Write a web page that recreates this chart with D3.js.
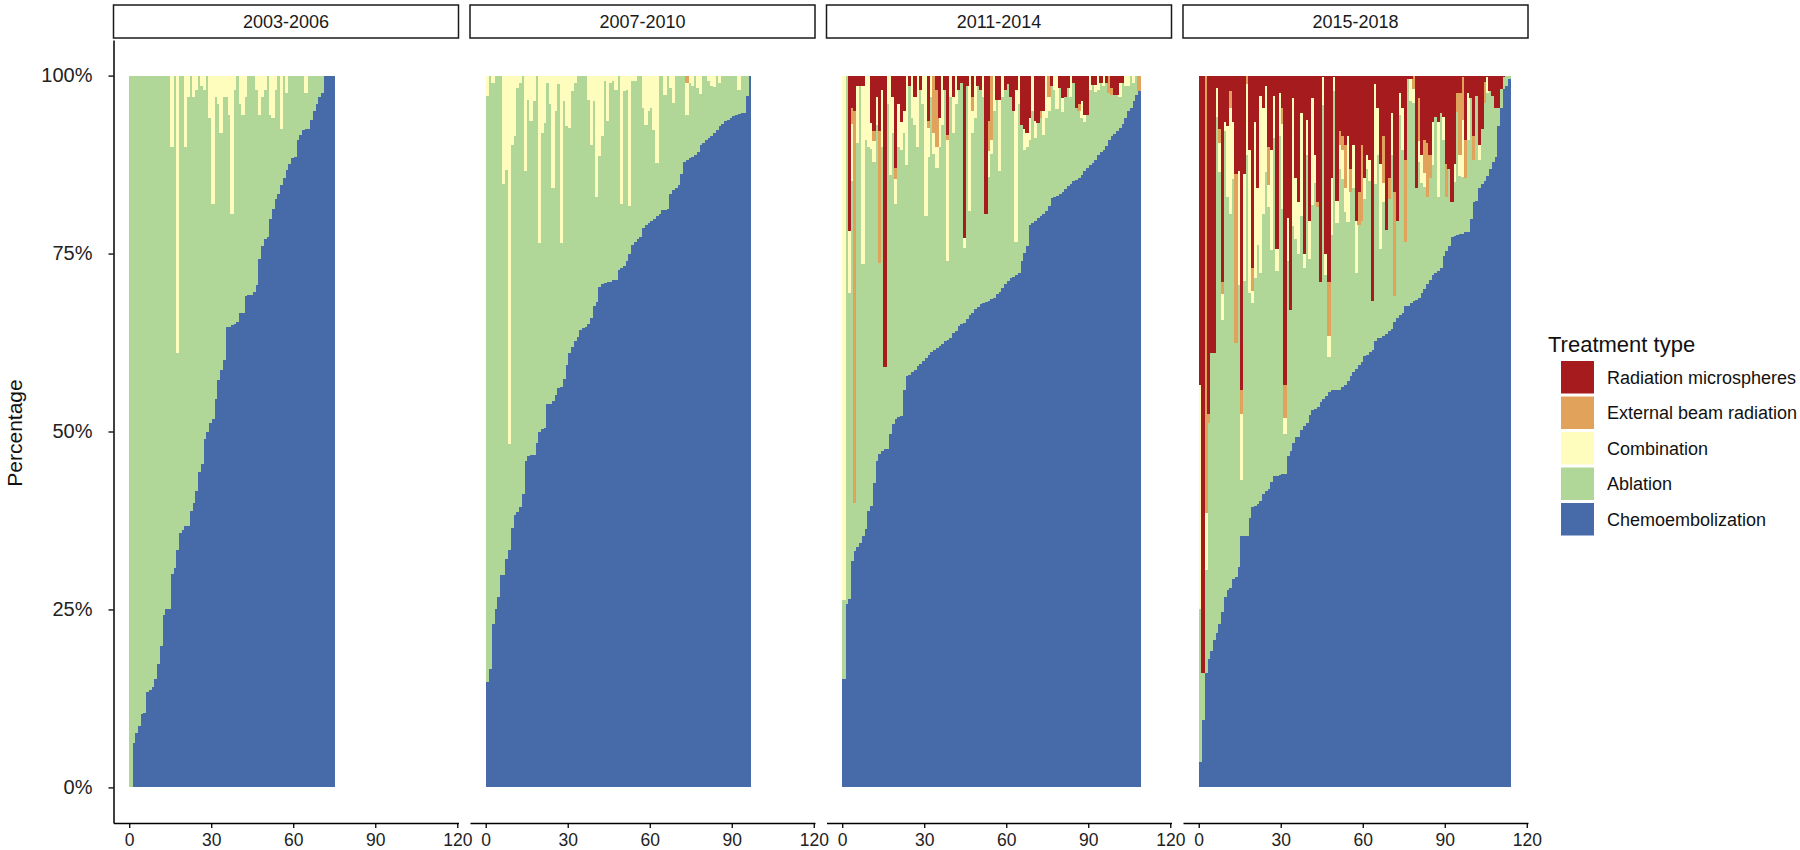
<!DOCTYPE html>
<html>
<head>
<meta charset="utf-8">
<script src="https://cdn.jsdelivr.net/npm/d3@7"></script>
<style>
  body { margin: 0; background: #fff; }
  svg text { font-family: "Liberation Sans", Arial, sans-serif; }
</style>
</head>
<body>
<div id="chart"></div>
<script>
// ---- data: share (%) of each treatment per hospital, hospitals sorted by chemoembolization share

const periods = ["2003-2006", "2007-2010", "2011-2014", "2015-2018"];
const treatments = ["chemo", "ablation", "combination", "external", "microspheres"];
const treatmentLabels = ["Chemoembolization", "Ablation", "Combination", "External beam radiation", "Radiation microspheres"];
const treatmentColors = ["#476aa8", "#b1d798", "#fefdbd", "#e1a25c", "#a61c1e"];
const xTicks = [0, 30, 60, 90, 120];
const yTicks = [0, 0.25, 0.5, 0.75, 1];

// 2003-2006
const p1Chemo = [0, 6.3, 7.6, 8.6, 10.3, 10.4, 13.4, 13.7, 14.1, 15.3,
  17.3, 19.9, 24.2, 25, 25, 30, 30.8, 33.3, 35.7, 36.2,
  36.7, 36.7, 38.9, 39.9, 41.7, 44.3, 45.5, 49, 50, 51.2,
  51.8, 54.6, 57.2, 58.7, 60, 64.7, 64.7, 64.9, 65.1, 65.4,
  66.7, 66.7, 69, 69.2, 69.2, 69.6, 70.6, 74.2, 76, 77,
  77.3, 79.9, 81.2, 82.6, 83.3, 84.6, 85.6, 86.8, 87.6, 88.4,
  88.6, 90.9, 91.7, 92.3, 92.5, 92.5, 93.7, 95, 96, 97,
  97.5, 100, 100, 100, 100];
const p1Ablation = [100, 93.7, 92.4, 91.4, 89.7, 89.6, 86.6, 86.3, 85.9, 84.7,
  82.7, 80.1, 75.8, 75, 75, 60, 69.2, 27.7, 64.3, 63.8,
  53.3, 60.3, 61.1, 57.1, 56.3, 55.7, 53, 49, 50, 42.8,
  30.2, 42.4, 38.8, 33.3, 37, 32.3, 29.8, 15.6, 32.9, 34.6,
  29.3, 27.8, 28, 30.8, 30.8, 30.4, 27.4, 20.3, 21, 21,
  22.7, 14.6, 12.8, 15.4, 16.7, 7.9, 14.4, 10.7, 12.4, 11.6,
  11.4, 9.1, 8.3, 7.7, 5, 7.5, 6.3, 5, 4, 3,
  2.5, 0, 0, 0, 0];
const p1Combination = [0, 0, 0, 0, 0, 0, 0, 0, 0, 0,
  0, 0, 0, 0, 0, 10, 0, 39, 0, 0,
  10, 3, 0, 3, 2, 0, 1.5, 2, 0, 6,
  18, 3, 4, 8, 3, 3, 5.5, 19.5, 2, 0,
  4, 5.5, 3, 0, 0, 0, 2, 5.5, 3, 2,
  0, 5.5, 6, 2, 0, 7.5, 0, 2.5, 0, 0,
  0, 0, 0, 0, 2.5, 0, 0, 0, 0, 0,
  0, 0, 0, 0, 0];
const p1External = [];
const p1Microspheres = [];

// 2007-2010
const p2Chemo = [14.8, 16.6, 23, 25, 26.7, 29.8, 29.8, 32.1, 33.3, 36.5,
  38.3, 38.7, 39.4, 41.2, 45.9, 46.5, 46.7, 46.7, 48.4, 50,
  50.4, 50.5, 53.8, 53.9, 54.3, 55.1, 56.1, 56.3, 57.4, 59.4,
  61, 61.9, 62.7, 63.3, 64.3, 64.5, 64.7, 65.1, 65.9, 67.6,
  68.2, 70.3, 70.7, 70.9, 71, 71, 71.3, 71.3, 72.7, 73,
  73.3, 74, 75, 76.2, 76.6, 77.1, 77.3, 78.6, 79, 79.3,
  79.6, 79.9, 80.3, 80.6, 81.1, 81.1, 81.2, 83.3, 83.9, 84.2,
  84.6, 86.2, 87.9, 88.1, 88.4, 88.6, 88.9, 89.2, 90.3, 90.5,
  90.9, 91.2, 91.5, 91.9, 92.3, 92.9, 93.2, 93.6, 93.8, 94,
  94.3, 94.5, 94.6, 94.7, 94.8, 97.2, 100];
const p2Ablation = [82.3, 83.4, 76, 75, 73.3, 70.2, 54.9, 54.7, 14.9, 53.8,
  53.2, 59.6, 59.6, 58.8, 40.7, 50.1, 46.9, 49.7, 51.6, 26.5,
  41.6, 42.9, 45.2, 42.1, 29.9, 39.9, 42.7, 20.2, 39, 33.5,
  31.7, 35.9, 36.3, 36.7, 35.7, 35.5, 35.3, 31.5, 24.4, 28.8,
  14.8, 18.4, 20.8, 28.3, 22.6, 28, 27.9, 26.7, 27.3, 8.9,
  24.5, 24, 6.7, 23, 22.6, 22.9, 22.7, 16.9, 14.1, 15.7,
  15.9, 12.5, 7.4, 19.4, 18.9, 16.2, 18.8, 15, 12.3, 15.8,
  15.4, 13.8, 12.1, 6.4, 10.6, 9.9, 11.1, 9.1, 7.1, 9.5,
  9.1, 8, 7, 6.5, 7.7, 6.1, 6.8, 6.4, 6.2, 6,
  5.7, 5.5, 3.4, 5.3, 5.2, 2.8, 0];
const p2Combination = [2.9, 0, 1, 0, 0, 0, 15.3, 13.2, 51.8, 9.7,
  8.5, 1.7, 1, 0, 13.4, 3.4, 6.4, 3.6, 0, 23.5,
  8, 6.6, 1, 4, 15.8, 5, 1.2, 23.5, 3.6, 7.1,
  7.3, 2.2, 1, 0, 0, 0, 0, 3.4, 9.7, 3.6,
  17, 11.3, 8.5, 0.8, 6.4, 1, 0.8, 2, 0, 18.1,
  2.2, 2, 18.3, 0.8, 0.8, 0, 0, 4.5, 6.9, 5,
  4.5, 7.6, 12.3, 0, 0, 2.7, 0, 1.7, 3.8, 0,
  0, 0, 0, 4.5, 1, 1.5, 0, 1.7, 2.6, 0,
  0, 0.8, 1.5, 1.6, 0, 1, 0, 0, 0, 0,
  0, 0, 2, 0, 0, 0, 0];
const p2External = [0, 0, 0, 0, 0, 0, 0, 0, 0, 0,
  0, 0, 0, 0, 0, 0, 0, 0, 0, 0,
  0, 0, 0, 0, 0, 0, 0, 0, 0, 0,
  0, 0, 0, 0, 0, 0, 0, 0, 0, 0,
  0, 0, 0, 0, 0, 0, 0, 0, 0, 0,
  0, 0, 0, 0, 0, 0, 0, 0, 0, 0,
  0, 0, 0, 0, 0, 0, 0, 0, 0, 0,
  0, 0, 0, 1, 0, 0, 0, 0, 0, 0,
  0, 0, 0, 0, 0, 0, 0, 0, 0, 0,
  0, 0, 0, 0, 0, 0, 0];
const p2Microspheres = [];

// 2011-2014
const p3Chemo = [15.3, 25.7, 26.5, 31.8, 33.2, 33.8, 34.4, 35.3, 36.3, 38.8,
  39.5, 42.8, 45.9, 46.8, 47.3, 47.5, 47.5, 49.6, 51, 51.7,
  52, 52.2, 55.9, 57.8, 58, 58.4, 58.7, 59.2, 59.5, 59.9,
  60.3, 60.7, 61.1, 61.5, 61.8, 62, 62.3, 62.7, 62.9, 63.2,
  63.9, 64.1, 64.8, 65.1, 65.3, 65.8, 66.4, 66.7, 67.2, 67.5,
  67.9, 68.1, 68.2, 68.3, 68.6, 68.8, 69.3, 69.6, 70.2, 70.7,
  71.1, 71.5, 71.7, 72, 72.2, 73.9, 75.1, 76, 79, 79.3,
  79.6, 80, 80.3, 80.5, 81, 81.7, 82.8, 82.9, 83.1, 83.4,
  83.7, 84, 84.5, 84.8, 85.2, 85.4, 85.6, 86.1, 86.6, 87,
  87.4, 87.7, 88.2, 88.8, 89.3, 89.6, 90.1, 90.9, 91.5, 91.8,
  92.2, 92.7, 93.2, 94.1, 95, 95.5, 96.4, 97.3, 97.8];
const p3Ablation = [11, 74.3, 42.9, 53.4, 6.8, 56.7, 64.1, 38.2, 54.7, 51.2,
  50.2, 45, 47.1, 26.9, 42.7, 11.5, 48.5, 36.4, 41, 30.2,
  38, 37.3, 36.1, 29.7, 40.5, 35.6, 34.3, 30.8, 38.5, 36.1,
  20, 27.9, 35.9, 27.5, 25.2, 28, 30.7, 35.3, 11.1, 33.8,
  28.1, 31.9, 33.2, 33.9, 10.5, 32.7, 14.6, 25.3, 26.8, 31,
  30.1, 28.9, 12.3, 17.5, 20.4, 26.2, 27.3, 17, 26.8, 27.3,
  27.7, 25.5, 23.3, 4.6, 23.8, 19.1, 14.4, 14, 12, 15.7,
  11.6, 13.4, 13.7, 11.2, 13, 13.3, 15.7, 15.1, 12.2, 14.9,
  11.2, 13, 13.8, 12.2, 13.8, 10.1, 9.4, 8, 6.9, 7.5,
  10.6, 11, 9.5, 9.2, 9.7, 8.9, 8.9, 6.7, 5.8, 5.5,
  5.1, 4.3, 5.8, 4.4, 3.5, 4.5, 2.6, 2.7, 0];
const p3Combination = [73.7, 0, 8.7, 8, 0, 8, 0, 25, 9, 10,
  3.7, 3, 4, 0, 8, 0, 4, 14, 5, 3.6,
  6, 4, 3, 12.5, 0, 6, 4, 10, 0, 4,
  19.7, 4, 3, 3, 3, 4, 7, 0, 17, 3,
  5, 4, 0, 0, 1.4, 0, 19, 3, 6, 0,
  0, 3, 0, 3.6, 2, 5, 0, 10, 3, 0,
  0, 0, 0, 21.4, 4, 0, 3, 2, 3, 5,
  2.4, 0, 0, 3.3, 6, 2, 0, 2, 4.7, 0,
  2, 0, 0, 3, 0, 0, 0, 2.3, 1, 0,
  2, 0, 1, 2, 0, 1.5, 0, 0, 0, 0,
  0, 2, 0, 1.5, 1.5, 0, 1, 0, 0];
const p3External = [0, 0, 0, 2.3, 55, 0, 0, 0, 0, 0,
  0, 1.4, 0, 18.5, 0, 0, 0, 0, 0, 1.5,
  0, 0, 0, 0, 0, 0, 0, 0, 0, 0,
  0, 1, 0, 8, 8, 0, 0, 0, 0.7, 0,
  0, 0, 0, 0, 0, 0, 0, 2, 0, 0,
  0, 0, 0, 4.2, 9, 0, 0, 0, 0, 0,
  0, 0, 0, 0, 0, 0, 0, 0, 0, 0,
  0, 0, 1, 0, 0, 3, 0, 0, 0, 0,
  0, 0, 0, 0, 0, 0, 1, 0, 0, 0,
  0, 0, 0, 0, 0, 0, 0, 2.4, 1, 0,
  0, 0, 0, 0, 0, 0, 0, 0, 2.2];
const p3Microspheres = [0, 0, 21.9, 4.5, 5, 1.5, 1.5, 1.5, 0, 0,
  6.6, 7.8, 3, 7.8, 2, 41, 0, 0, 3, 13,
  4, 6.5, 5, 0, 1.5, 0, 3, 0, 2, 0,
  0, 6.4, 0, 0, 2, 6, 0, 2, 8.3, 0,
  3, 0, 2, 1, 22.8, 1.5, 0, 3, 0, 1.5,
  2, 0, 19.5, 6.4, 0, 0, 3.4, 3.4, 0, 2,
  1.2, 3, 5, 2, 0, 7, 7.5, 8, 6, 0,
  6.4, 6.6, 5, 5, 0, 0, 1.5, 0, 0, 1.7,
  3.1, 3, 1.7, 0, 1, 4.5, 4, 3.6, 5.5, 5.5,
  0, 1.3, 1.3, 0, 1, 0, 1, 0, 1.7, 2.7,
  2.7, 1, 1, 0, 0, 0, 0, 0, 0];

// 2015-2018
const p4Chemo = [3.5, 9.5, 16.1, 18.1, 19.1, 20.7, 21.7, 23, 24.7, 26.7,
  27.7, 28, 29.3, 29.6, 31, 35.3, 35.3, 35.3, 37.9, 39.4,
  39.6, 39.8, 40.2, 41.2, 41.7, 41.9, 42.9, 43.7, 43.7, 43.9,
  44, 44, 46.5, 47.3, 48.4, 49.2, 49.2, 50.2, 50.8, 51.2,
  52.3, 53, 53.1, 53.5, 54.1, 54.6, 55, 55.5, 55.8, 55.9,
  55.9, 55.9, 56.3, 56.6, 57.1, 57.8, 58.3, 58.8, 59.4, 59.8,
  60.6, 60.8, 61.2, 61.4, 62.7, 63.1, 63.2, 63.4, 63.7, 64.1,
  64.4, 65.4, 65.9, 66.4, 66.7, 67.6, 67.7, 68, 68.4, 68.5,
  68.8, 69.4, 70, 70.7, 71.3, 72, 72.2, 72.5, 73, 74.7,
  75.3, 76, 77.3, 77.5, 77.6, 77.8, 77.8, 78, 78, 79.9,
  82.3, 82.4, 84.2, 84.8, 85.2, 85.9, 86.9, 87.9, 88.5, 92.9,
  95.5, 98.1, 98.5, 99.5];
const p4Ablation = [21.6, 6.6, 14.5, 33.1, 41.9, 40.3, 72.5, 63.5, 41, 65.5,
  55.2, 52.5, 56.2, 32.8, 39.6, 7.9, 35.9, 53.5, 31.6, 28.6,
  31.9, 36.4, 32, 39.3, 44.8, 39.7, 32.6, 47.5, 28.9, 47.6,
  37.2, 5.6, 27.5, 19.7, 30.4, 27.8, 25.8, 30.1, 22.2, 37.6,
  22, 28.8, 31.8, 28.1, 16.9, 41.2, 17, 4.9, 21.8, 41.9,
  23.5, 31, 29.2, 24.3, 22.4, 25.8, 25.9, 13.5, 19.6, 19.8,
  22, 26.1, 24, 7, 22.1, 25.8, 12.5, 18.9, 14.6, 18.5,
  24.4, 3.7, 13.7, 28.1, 22.8, 9, 31.8, 28.5, 27.7, 15.7,
  19, 15.5, 14.3, 12.2, 14.3, 15.5, 22, 10.4, 21.8, 16.2,
  7.7, 10.9, 5, 7.5, 17.3, 8.1, 8, 7.6, 12.9, 16.9,
  5.9, 14.8, 4, 7.7, 10.9, 11.6, 10.9, 9.3, 7, 2.6,
  2.6, 1.7, 1.5, 0.5];
const p4Combination = [31.4, 0, 8, 0, 0, 0, 4, 4, 3.6, 1.3,
  10, 15, 8, 0, 16, 9.3, 15, 10, 20, 1.7,
  22, 8, 25, 15, 12, 3, 14, 6, 3, 6,
  12, 2.3, 6, 0, 18, 8.6, 7.3, 14.5, 2, 5,
  5.3, 15, 4, 0, 0, 4, 3, 3, 8, 2,
  3, 3.3, 4, 3.3, 12, 0, 6, 7.3, 0, 0,
  3, 2, 3, 0, 14, 6.6, 11.9, 2.6, 0, 0,
  6, 0, 0, 3, 6, 0, 0, 3, 2, 0,
  3, 4, 2, 0, 0, 6, 0, 10.6, 0, 3.3,
  0, 0, 0, 2.6, 0, 3, 8, 0, 6.6, 0,
  0, 0, 2, 0, 0, 2.3, 0, 0, 0, 0,
  0, 0, 0, 0];
const p4External = [0, 0, 61.4, 1.3, 0, 0, 0, 2, 1.7, 0,
  0, 2.3, 0, 23.8, 0, 3.3, 0, 1.2, 0, 3.3,
  0, 0, 0, 0, 0, 5.3, 0, 0, 0, 0,
  2.3, 4.6, 0, 0, 0, 0, 0, 0, 0, 0,
  0, 0, 0, 0.7, 0, 0, 0, 7.6, 0, 0,
  0, 2, 2, 6, 0, 3.3, 0, 0, 4.6, 10.6,
  0, 0, 0, 0, 0, 0, 0, 6.6, 0, 3,
  0, 14.5, 0, 0, 0, 11.6, 0, 0, 1.9, 0,
  6, 0, 4.6, 7.6, 3.3, 0, 0, 0, 0, 0,
  4.6, 0, 0, 0, 2.6, 8.6, 6, 5.3, 0, 0,
  3.3, 0, 0, 0, 3, 0, 0, 0, 0, 0,
  0, 0, 0, 0];
const p4Microspheres = [43.5, 83.9, 0, 47.5, 39, 39, 1.8, 7.5, 29, 6.5,
  7.1, 2.2, 6.5, 13.8, 13.4, 44.2, 13.8, 0, 10.5, 27,
  6.5, 15.8, 2.8, 4.5, 1.5, 10.1, 10.5, 2.8, 24.4, 2.5,
  4.5, 43.5, 20, 33, 3.2, 14.4, 17.7, 5.2, 25, 6.2,
  20.4, 3.2, 11.1, 17.7, 29, 0.2, 25, 29, 14.4, 0.2,
  17.7, 7.8, 8.5, 9.8, 8.5, 13.1, 9.8, 20.4, 16.4, 9.8,
  14.4, 11.1, 11.8, 31.6, 1.2, 4.5, 12.4, 8.5, 21.7, 14.4,
  5.2, 16.4, 20.4, 2.5, 4.5, 11.8, 0.5, 0.5, 0, 15.8,
  3.2, 11.1, 9.1, 9.5, 11.1, 6.5, 5.8, 6.5, 5.2, 5.8,
  12.4, 13.1, 17.7, 12.4, 2.5, 2.5, 0.2, 9.1, 2.5, 3.2,
  8.5, 2.8, 9.8, 7.5, 0.9, 0.2, 2.2, 2.8, 4.5, 4.5,
  1.9, 0.2, 0, 0];

const panels = [
  {label: periods[0], chemo: p1Chemo, ablation: p1Ablation, combination: p1Combination, external: p1External, microspheres: p1Microspheres},
  {label: periods[1], chemo: p2Chemo, ablation: p2Ablation, combination: p2Combination, external: p2External, microspheres: p2Microspheres},
  {label: periods[2], chemo: p3Chemo, ablation: p3Ablation, combination: p3Combination, external: p3External, microspheres: p3Microspheres},
  {label: periods[3], chemo: p4Chemo, ablation: p4Ablation, combination: p4Combination, external: p4External, microspheres: p4Microspheres}
];

// ---- layout

const svgWidth = 1800;
const svgHeight = 850;

const svg = d3.select("#chart")
  .append("svg")
  .attr("width", svgWidth)
  .attr("height", svgHeight)
  .style("background", "#fff");

const panelLeft = 113.5;
const panelStep = 356.5;
const panelWidth = 345;
const panelTop = 40;
const panelBottom = 823;
const stripTop = 5;
const stripHeight = 33;

const x = d3.scaleLinear()
  .domain([-5.75, 120.45])
  .range([0, panelWidth]);

const y = d3.scaleLinear()
  .domain([-0.05, 1.05])
  .range([panelBottom, panelTop]);

const color = d3.scaleOrdinal()
  .domain(treatments)
  .range(treatmentColors);

const stack = d3.stack()
  .keys(treatments)
  .value((d, k) => d[k])
  .offset(d3.stackOffsetExpand);

panels.forEach((p, i) => {
  const g = svg.append("g")
    .attr("transform", `translate(${panelLeft + i * panelStep}, 0)`);

  const rows = p.chemo.map((v, j) => ({
    bar: j + 1,
    chemo: v,
    ablation: p.ablation[j] || 0,
    combination: p.combination[j] || 0,
    external: p.external[j] || 0,
    microspheres: p.microspheres[j] || 0
  }));

  const series = stack(rows);
  const barW = x(1) - x(0);

  // bars: one column per hospital, no gaps between columns
  g.append("g")
    .attr("shape-rendering", "crispEdges")
    .selectAll(".layer")
    .data(series)
    .join("g")
    .attr("class", "layer")
    .attr("fill", d => color(d.key))
    .selectAll("rect")
    .data(d => d)
    .join("rect")
    .attr("x", d => x(d.data.bar - 1))
    .attr("width", barW + 0.6)
    .attr("y", d => y(d[1]))
    .attr("height", d => Math.max(0, y(d[0]) - y(d[1])));

  // facet strip
  g.append("rect")
    .attr("x", 0)
    .attr("y", stripTop)
    .attr("width", panelWidth)
    .attr("height", stripHeight)
    .attr("fill", "#fff")
    .attr("stroke", "#1a1a1a")
    .attr("stroke-width", 1.5);

  g.append("text")
    .attr("x", panelWidth / 2)
    .attr("y", stripTop + stripHeight / 2)
    .attr("dy", "0.35em")
    .attr("text-anchor", "middle")
    .attr("font-size", 18)
    .attr("fill", "#1a1a1a")
    .text(p.label);

  // x axis
  const xAxis = g.append("g")
    .attr("transform", `translate(0, ${panelBottom})`)
    .call(d3.axisBottom(x).tickValues(xTicks).tickSize(5).tickSizeOuter(0).tickPadding(6));
  xAxis.select(".domain").attr("stroke", "#000").attr("stroke-width", 1.5);
  xAxis.selectAll(".tick line").attr("stroke", "#000").attr("stroke-width", 1.3);
  xAxis.selectAll(".tick text")
    .attr("font-size", 17.5)
    .attr("font-family", "Liberation Sans, Arial, sans-serif")
    .attr("fill", "#222");

  // y axis on the first panel only
  if (i === 0) {
    const yAxis = g.append("g")
      .call(d3.axisLeft(y).tickValues(yTicks).tickFormat(d3.format(".0%")).tickSize(5).tickSizeOuter(0).tickPadding(16));
    yAxis.select(".domain").attr("stroke", "#000").attr("stroke-width", 1.5);
    yAxis.selectAll(".tick line").attr("stroke", "#000").attr("stroke-width", 1.3);
    yAxis.selectAll(".tick text")
      .attr("font-size", 20)
      .attr("font-family", "Liberation Sans, Arial, sans-serif")
      .attr("fill", "#222");
  }
});

// y title
svg.append("text")
  .attr("transform", "translate(22, 433) rotate(-90)")
  .attr("text-anchor", "middle")
  .attr("font-size", 21)
  .attr("fill", "#111")
  .text("Percentage");

// ---- legend (top to bottom: microspheres ... chemo)
const legend = svg.append("g").attr("transform", "translate(1548, 0)");

legend.append("text")
  .attr("x", 0)
  .attr("y", 352)
  .attr("font-size", 22)
  .attr("fill", "#111")
  .text("Treatment type");

const legendKeys = treatments.slice().reverse();

const item = legend.selectAll(".item")
  .data(legendKeys)
  .join("g")
  .attr("class", "item")
  .attr("transform", (d, k) => `translate(0, ${361 + k * 35.5})`);

item.append("rect")
  .attr("x", 13)
  .attr("y", 0)
  .attr("width", 33)
  .attr("height", 32.5)
  .attr("fill", d => color(d));

item.append("text")
  .attr("x", 59)
  .attr("y", 16.5)
  .attr("dy", "0.35em")
  .attr("font-size", 18)
  .attr("fill", "#111")
  .text(d => treatmentLabels[treatments.indexOf(d)]);
</script>
</body>
</html>
